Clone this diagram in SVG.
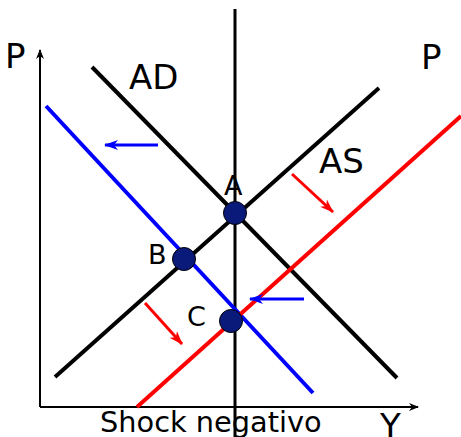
<svg xmlns="http://www.w3.org/2000/svg" width="461" height="437" viewBox="0 0 461 437">
<style>
text{font-family:"DejaVu Sans","Liberation Sans",sans-serif;fill:#000}
.big{font-size:34px}
.pt{font-size:27px}
.curve{fill:none;stroke-width:4}
.dot{fill:#0a1a7a;stroke:#000;stroke-width:1}
</style>
<defs>
<marker id="ax" markerWidth="10" markerHeight="8" refX="9" refY="4" orient="auto" markerUnits="userSpaceOnUse">
<path d="M0,0 L10,4 L0,8 L3,4 Z" fill="#000"/>
</marker>
<marker id="ab" markerWidth="14" markerHeight="10" refX="13" refY="5" orient="auto" markerUnits="userSpaceOnUse">
<path d="M0,0 L14,5 L0,10 L4,5 Z" fill="#0000ff"/>
</marker>
<marker id="ar" markerWidth="14" markerHeight="10" refX="13" refY="5" orient="auto" markerUnits="userSpaceOnUse">
<path d="M0,0 L14,5 L0,10 L4,5 Z" fill="#ff0000"/>
</marker>
</defs>
<g id="axes">
<line x1="40" y1="407" x2="40" y2="50" stroke="#000" stroke-width="2" marker-end="url(#ax)"/>
<line x1="40" y1="407" x2="418" y2="407" stroke="#000" stroke-width="2" marker-end="url(#ax)"/>
<line x1="235" y1="9" x2="235" y2="437" stroke="#000" stroke-width="3"/>
</g>
<g id="connectors">
<line id="AD" class="curve" x1="92" y1="67" x2="397" y2="378" stroke="#000"/>
<line id="AD2" class="curve" x1="46" y1="106" x2="313" y2="393" stroke="#0000ff"/>
<line id="AS" class="curve" x1="55" y1="377" x2="379" y2="88" stroke="#000"/>
<line id="AS2" class="curve" x1="137" y1="407" x2="461" y2="116" stroke="#ff0000"/>
<line x1="158" y1="145" x2="105" y2="145" stroke="#0000ff" stroke-width="3" marker-end="url(#ab)"/>
<line x1="304" y1="299" x2="250" y2="299" stroke="#0000ff" stroke-width="3" marker-end="url(#ab)"/>
<line x1="292" y1="174" x2="333" y2="212" stroke="#ff0000" stroke-width="3" marker-end="url(#ar)"/>
<line x1="145" y1="303" x2="182" y2="344" stroke="#ff0000" stroke-width="3" marker-end="url(#ar)"/>
</g>
<g id="A"><circle class="dot" cx="235" cy="213" r="11.5"/><text class="pt" x="224" y="195">A</text></g>
<g id="B"><circle class="dot" cx="184" cy="259" r="11.5"/><text class="pt" x="148" y="264">B</text></g>
<g id="C"><circle class="dot" cx="231" cy="321" r="11.5"/><text class="pt" x="187" y="326">C</text></g>
<g id="labels">
<text class="big" x="5" y="68">P</text>
<text class="big" x="421" y="69">P</text>
<text class="big" x="129" y="89">AD</text>
<text class="big" x="319" y="173">AS</text>
<text class="big" x="380" y="438">Y</text>
<text x="100" y="432" font-size="28.8">Shock negativo</text>
</g>
</svg>
